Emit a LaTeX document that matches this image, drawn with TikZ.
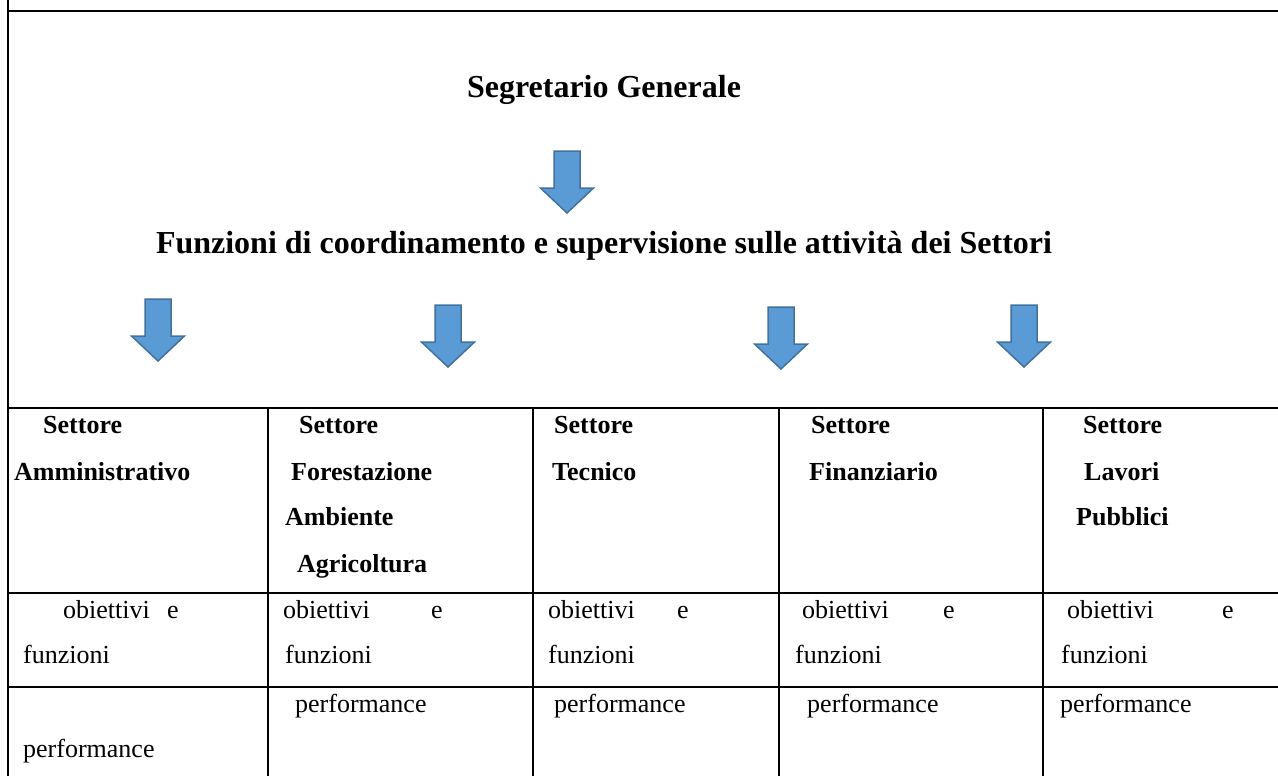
\documentclass[tikz,border=0pt]{standalone}
\usepackage{fontspec}
\setmainfont{Liberation Serif}
\usetikzlibrary{calc}

\definecolor{arrowfill}{RGB}{91,155,213}
\definecolor{arrowdraw}{RGB}{65,113,156}

\begin{document}
\begin{tikzpicture}[
    x=1pt,y=-1pt,
    frame line/.style={black,line width=2pt},
    heading/.style={anchor=base,inner sep=0pt,font=\fontsize{32}{38}\selectfont\bfseries},
    cell title/.style={anchor=base west,inner sep=0pt,font=\fontsize{26}{46}\selectfont\bfseries},
    cell text/.style={anchor=base west,inner sep=0pt,font=\fontsize{26}{46}\selectfont},
    arrow shape/.style={fill=arrowfill,draw=arrowdraw,line width=1.5pt,line join=miter},
    down arrow/.pic={
        \draw[arrow shape] (-13,0) -- (13,0) -- (13,37) -- (26.5,37)
            -- (0,62) -- (-26.5,37) -- (-13,37) -- cycle;
    }
]
\useasboundingbox (0,0) rectangle (1278,776);

% Cornice esterna
\draw[frame line] (8,0) -- (8,776);
\draw[frame line] (8,11) -- (1278,11);

% Titoli
\node[heading] (segretario) at (604,97) {Segretario Generale};
\node[heading] (funzioni) at (604,253) {Funzioni di coordinamento e supervisione sulle attività dei Settori};

% Frecce
\pic at (567,151) {down arrow};
\foreach \x/\y in {158/299, 448/305, 781/307, 1024/305}
    \pic at (\x,\y) {down arrow};

% Righe e colonne della tabella
\foreach \y in {408, 593, 687}
    \draw[frame line] (8,\y) -- (1278,\y);
\foreach \x in {268, 533, 779, 1043}
    \draw[frame line] (\x,408) -- (\x,776);

% Intestazioni dei settori
\foreach \x/\y/\t [count=\i] in {
    43/433/Settore, 14/480/Amministrativo,
    299/433/Settore, 291/480/Forestazione, 285/525/Ambiente, 297/572/Agricoltura,
    554/433/Settore, 552/480/Tecnico,
    811/433/Settore, 809/480/Finanziario,
    1083/433/Settore, 1084/480/Lavori, 1076/525/Pubblici}
    \node[cell title] (titolo\i) at (\x,\y) {\t};

% Obiettivi e funzioni
\foreach \x/\e/\f [count=\i] in {63/167/23, 283/431/285, 548/677/548, 802/943/795, 1067/1222/1061} {
    \node[cell text] (obiettivi\i) at (\x,618) {obiettivi};
    \node[cell text] (e\i) at (\e,618) {e};
    \node[cell text] (funz\i) at (\f,663) {funzioni};
}

% Performance
\foreach \x/\y [count=\i] in {23/757, 295/712, 554/712, 807/712, 1060/712}
    \node[cell text] (perf\i) at (\x,\y) {performance};

\end{tikzpicture}
\end{document}
